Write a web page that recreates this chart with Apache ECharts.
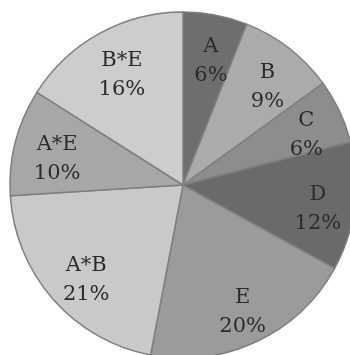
<!DOCTYPE html>
<html>
<head>
<meta charset="utf-8">
<script src="https://cdn.jsdelivr.net/npm/echarts@6/dist/echarts.min.js"></script>
<style>
html,body{margin:0;padding:0;background:#fff;}
#chart{width:350px;height:355px;}
</style>
</head>
<body>
<div id="chart"></div>
<script>
const categories = ['A', 'B', 'C', 'D', 'E', 'A*B', 'A*E', 'B*E'];
const values = [6, 9, 6, 12, 20, 21, 10, 16];
const colors = ['#6e6e70', '#ababad', '#8d8d8f', '#6a6a6c', '#9b9b9d', '#c9c9cb', '#a7a7a9', '#cdcdcf'];

const data = categories.map((c, i) => ({ name: c, value: values[i], itemStyle: { color: colors[i] } }));
const labelData = categories.map((c, i) => ({ name: c, value: values[i] }));

const chart = echarts.init(document.getElementById('chart'));
chart.setOption({
  animation: false,
  series: [
    {
      type: 'pie',
      center: [183, 185],
      radius: [0, 173],
      startAngle: 90,
      clockwise: true,
      avoidLabelOverlap: false,
      silent: true,
      label: { show: false },
      labelLine: { show: false },
      itemStyle: { borderColor: '#7f7f81', borderWidth: 1.5 },
      data: data
    },
    {
      type: 'pie',
      center: [186, 192],
      radius: [0, 260],
      startAngle: 90,
      clockwise: true,
      avoidLabelOverlap: false,
      silent: true,
      itemStyle: { color: 'rgba(0,0,0,0)', borderWidth: 0 },
      label: {
        show: true,
        position: 'inside',
        formatter: '{b}\n{c}%',
        fontFamily: 'DejaVu Serif',
        fontSize: 21,
        lineHeight: 29,
        color: '#2b2b2b',
        textBorderWidth: 0
      },
      labelLine: { show: false },
      data: labelData
    }
  ]
});
</script>
</body>
</html>
